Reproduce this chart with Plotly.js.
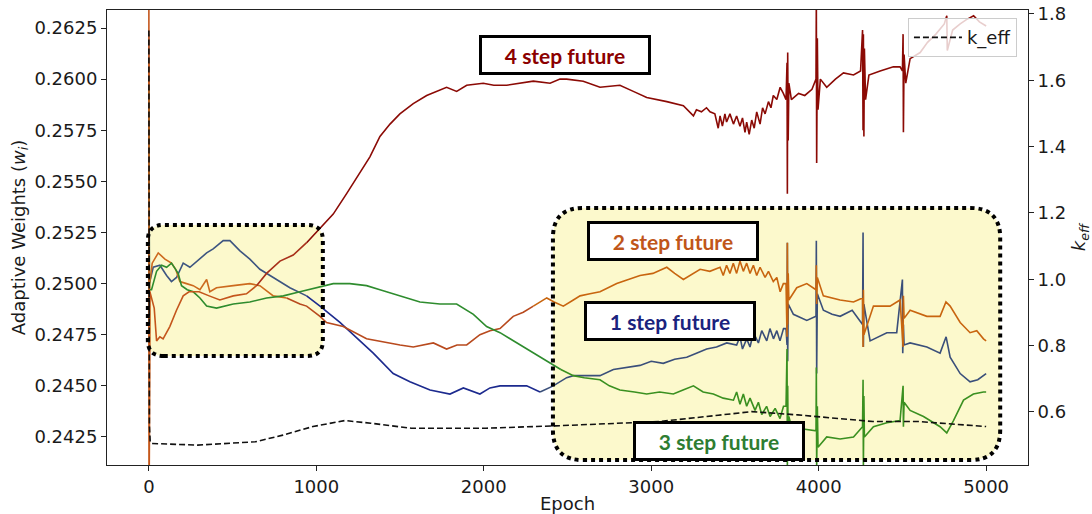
<!DOCTYPE html>
<html>
<head>
<meta charset="utf-8">
<script src="https://cdn.plot.ly/plotly-3.0.1.min.js"></script>
<style>html,body{margin:0;padding:0;background:#fff;}#chart{width:1092px;height:514px;}</style>
</head>
<body>
<div id="chart"></div>
<script>
// ---------------- data ----------------
const epochs4 = [0,2,6,32,46,66,85,125,165,205,240,300,360,424,504,583,643,703,783,862,942,1022,1101,1181,1260,1320,1380,1440,1499,1579,1659,1720,1778,1838,1898,1997,2060,2137,2220,2296,2396,2455,2495,2594,2694,2813,2893,2973,3093,3192,3252,3270,3300,3330,3351,3380,3400,3411,3425,3440,3450,3470,3491,3510,3530,3545,3560,3570,3585,3600,3615,3630,3650,3665,3680,3700,3715,3729,3750,3770,3789,3805,3811,3813,3815,3818,3822,3837,3880,3917,3960,3984,3986,3988,3992,3996,4010,4048,4100,4148,4208,4250,4262,4265,4267,4270,4273,4280,4300,4367,4446,4486,4500,4504,4506,4510,4520,4546,4606,4650,4700,4750,4765,4768,4800,4845,4880,4925,4960,5000];
const weight4 = [0.2650,0.2405,0.2496,0.2488,0.2472,0.2474,0.2473,0.2479,0.2487,0.2494,0.2496,0.2496,0.2494,0.2492,0.2494,0.2495,0.2499,0.2505,0.2511,0.2514,0.2520,0.2527,0.2534,0.2544,0.2554,0.2562,0.2572,0.2578,0.2583,0.2588,0.2592,0.2594,0.2596,0.2594,0.2597,0.2598,0.2597,0.2597,0.2598,0.2599,0.2598,0.2600,0.2600,0.2599,0.2596,0.2597,0.2594,0.2591,0.2589,0.2587,0.2582,0.2585,0.2584,0.2586,0.2584,0.2583,0.2576,0.2582,0.2577,0.2583,0.2579,0.2583,0.2578,0.2582,0.2577,0.2581,0.2574,0.2579,0.2573,0.2580,0.2576,0.2584,0.2578,0.2586,0.2583,0.2589,0.2586,0.2592,0.2590,0.2596,0.2593,0.2590,0.2608,0.2544,0.2613,0.2570,0.2598,0.2590,0.2593,0.2592,0.2595,0.2600,0.2640,0.2559,0.2620,0.2585,0.2600,0.2596,0.2600,0.2603,0.2602,0.2604,0.2624,0.2575,0.2622,0.2572,0.2615,0.2590,0.2602,0.2604,0.2606,0.2606,0.2604,0.2622,0.2574,0.2612,0.2598,0.2610,0.2613,0.2618,0.2622,0.2627,0.2631,0.2614,0.2624,0.2627,0.2629,0.2631,0.2628,0.2626];

const epochs2 = [0,2,5,20,56,96,135,160,185,225,265,305,345,364,404,504,603,663,743,823,902,942,1022,1061,1161,1300,1420,1500,1579,1640,1699,1778,1840,1898,1977,2037,2097,2176,2236,2296,2376,2420,2475,2535,2575,2634,2694,2794,2860,2933,3010,3093,3140,3192,3292,3350,3411,3430,3450,3470,3490,3510,3530,3550,3570,3590,3610,3630,3650,3680,3700,3729,3750,3770,3789,3805,3811,3813,3815,3818,3822,3869,3929,3984,3986,3988,3992,4028,4128,4208,4262,4265,4267,4270,4327,4426,4486,4504,4506,4510,4546,4646,4725,4760,4785,4845,4904,4944,4984,5000];
const weight2 = [0.2608,0.2405,0.2500,0.2510,0.2515,0.2512,0.2510,0.2507,0.2501,0.2500,0.2499,0.2497,0.2502,0.2496,0.2498,0.2499,0.2500,0.2499,0.2494,0.2493,0.2490,0.2489,0.2484,0.2481,0.2479,0.2473,0.2471,0.2470,0.2469,0.2470,0.2471,0.2468,0.2470,0.2470,0.2475,0.2477,0.2478,0.2484,0.2486,0.2489,0.2493,0.2491,0.2489,0.2492,0.2494,0.2495,0.2496,0.2500,0.2502,0.2504,0.2505,0.2508,0.2505,0.2502,0.2507,0.2506,0.2508,0.2504,0.2509,0.2505,0.2510,0.2505,0.2511,0.2506,0.2510,0.2505,0.2509,0.2504,0.2508,0.2503,0.2506,0.2501,0.2503,0.2496,0.2500,0.2500,0.2474,0.2520,0.2480,0.2505,0.2492,0.2498,0.2500,0.2497,0.2509,0.2490,0.2503,0.2494,0.2492,0.2491,0.2493,0.2469,0.2497,0.2475,0.2489,0.2489,0.2492,0.2469,0.2494,0.2483,0.2487,0.2484,0.2484,0.2491,0.2489,0.2481,0.2476,0.2477,0.2473,0.2472];

const epochs1 = [0,3,26,66,106,135,165,205,245,305,345,384,444,484,544,603,663,743,842,942,1022,1141,1260,1340,1459,1559,1679,1740,1798,1878,1977,2037,2097,2176,2256,2336,2415,2495,2535,2634,2694,2774,2850,2933,3000,3072,3140,3212,3270,3331,3390,3451,3510,3530,3545,3570,3590,3610,3640,3660,3690,3709,3730,3750,3769,3790,3805,3811,3813,3815,3818,3849,3929,3984,3986,3988,3992,4028,4080,4128,4200,4262,4265,4267,4270,4307,4407,4466,4500,4502,4506,4510,4546,4646,4725,4761,4785,4845,4904,4950,4984,5000];
const weight1 = [0.2622,0.2500,0.2508,0.2509,0.2504,0.2501,0.2503,0.2510,0.2508,0.2512,0.2515,0.2517,0.2521,0.2521,0.2516,0.2512,0.2507,0.2503,0.2498,0.2494,0.2489,0.2481,0.2472,0.2466,0.2456,0.2452,0.2448,0.2447,0.2446,0.2449,0.2446,0.2449,0.2450,0.2450,0.2450,0.2447,0.2450,0.2454,0.2455,0.2455,0.2455,0.2458,0.2459,0.2460,0.2462,0.2461,0.2463,0.2464,0.2466,0.2468,0.2469,0.2471,0.2470,0.2474,0.2468,0.2473,0.2469,0.2476,0.2471,0.2477,0.2472,0.2478,0.2473,0.2477,0.2472,0.2478,0.2478,0.2470,0.2520,0.2462,0.2490,0.2485,0.2482,0.2484,0.2521,0.2456,0.2495,0.2487,0.2485,0.2484,0.2487,0.2480,0.2525,0.2469,0.2490,0.2472,0.2476,0.2476,0.2502,0.2466,0.2480,0.2470,0.2471,0.2469,0.2466,0.2474,0.2464,0.2456,0.2452,0.2453,0.2455,0.2456];

const epochs3 = [0,3,16,46,76,106,135,175,195,229,265,305,345,404,504,603,703,803,902,1002,1101,1200,1300,1380,1499,1619,1738,1838,1938,2017,2097,2176,2236,2296,2396,2460,2535,2600,2694,2750,2813,2900,2973,3050,3132,3190,3252,3310,3371,3430,3491,3510,3530,3550,3570,3590,3620,3640,3660,3689,3710,3740,3769,3790,3805,3811,3813,3815,3818,3822,3837,3897,3984,3986,3988,3992,3996,4048,4128,4208,4262,4265,4267,4270,4273,4327,4407,4486,4504,4506,4510,4546,4626,4725,4765,4805,4865,4924,4984,5000];
const weight3 = [0.2595,0.2497,0.2497,0.2506,0.2509,0.2508,0.2510,0.2505,0.2499,0.2497,0.2496,0.2493,0.2489,0.2488,0.2490,0.2491,0.2493,0.2494,0.2496,0.2498,0.2500,0.2500,0.2499,0.2497,0.2494,0.2491,0.2490,0.2490,0.2485,0.2479,0.2476,0.2472,0.2469,0.2466,0.2461,0.2458,0.2455,0.2454,0.2453,0.2450,0.2448,0.2447,0.2446,0.2447,0.2446,0.2448,0.2450,0.2447,0.2446,0.2444,0.2443,0.2447,0.2441,0.2446,0.2440,0.2444,0.2438,0.2442,0.2436,0.2440,0.2435,0.2439,0.2434,0.2440,0.2440,0.2468,0.2410,0.2450,0.2420,0.2435,0.2430,0.2429,0.2428,0.2459,0.2410,0.2440,0.2420,0.2425,0.2424,0.2425,0.2430,0.2453,0.2410,0.2445,0.2425,0.2430,0.2432,0.2433,0.2450,0.2430,0.2442,0.2438,0.2435,0.2430,0.2427,0.2433,0.2443,0.2446,0.2447,0.2447];

const epochsK = [0,3,8,15,291,636,800,980,1170,1325,1566,2014,2428,3048,3400,3600,3876,4324,4600,5000];
const kEff = [1.75,0.56,0.51,0.505,0.500,0.510,0.530,0.556,0.574,0.566,0.551,0.551,0.558,0.571,0.590,0.601,0.591,0.571,0.571,0.556];

const labels = ["4 step future","2 step future","1 step future","3 step future"];
const labelEpochs = [2485,3130,3112,3405];
const labelWeights = [0.26118,0.25208,0.24817,0.24230];

// ---------------- styling ----------------
const labelColors = ["#8b0000","#c0561a","#1a237e","#2e7d32"];

function segmentTraces(xs, ys, breaks, colors) {
  const out = [];
  for (let s = 0; s < breaks.length; s++) {
    const lo = breaks[s], hi = (s + 1 < breaks.length) ? breaks[s+1] : Infinity;
    const idx = [];
    for (let i = 0; i < xs.length; i++) if (xs[i] >= lo && xs[i] < hi) idx.push(i);
    if (!idx.length) continue;
    if (idx[0] > 0) idx.unshift(idx[0]-1);
    out.push({
      x: idx.map(i => xs[i]), y: idx.map(i => ys[i]),
      type: 'scatter', mode: 'lines', showlegend: false, hoverinfo: 'skip',
      line: {color: colors[s], width: 1.6}, xaxis: 'x', yaxis: 'y'
    });
  }
  return out;
}

const traces = [
  ...segmentTraces(epochs1, weight1, [0, 1000, 2400], ["#3d5580", "#1c2a8e", "#3a4f7a"]),
  ...segmentTraces(epochs2, weight2, [0, 900, 2350], ["#cc6a1e", "#b84a1e", "#c8650f"]),
  ...segmentTraces(epochs3, weight3, [0, 2500], ["#2e8c2e", "#3a9020"]),
  ...segmentTraces(epochs4, weight4, [0, 700, 1000], ["#c4561c", "#a8301a", "#8b0a05"]),
  {
    x: epochsK, y: kEff, type: 'scatter', mode: 'lines', name: 'k_eff',
    line: {color: '#111', width: 1.6, dash: '6px,3px'}, xaxis: 'x', yaxis: 'y2'
  }
];

function roundRect(x0, x1, y0, y1, rx, ry) {
  return `M ${x0+rx},${y0} L ${x1-rx},${y0} Q ${x1},${y0} ${x1},${y0+ry} L ${x1},${y1-ry} Q ${x1},${y1} ${x1-rx},${y1} L ${x0+rx},${y1} Q ${x0},${y1} ${x0},${y1-ry} L ${x0},${y0+ry} Q ${x0},${y0} ${x0+rx},${y0} Z`;
}
const box1 = roundRect(-6, 1039, 0.24646, 0.25287, 95, 0.00075);
const box2 = roundRect(2413, 5084, 0.24137, 0.25370, 180, 0.00147);
const fillCol = '#fcf9cc';

const shapes = [
  {type:'path', path: box1, xref:'x', yref:'y', fillcolor: fillCol, line:{width:0}, layer:'below'},
  {type:'path', path: box2, xref:'x', yref:'y', fillcolor: fillCol, line:{width:0}, layer:'below'},
  {type:'path', path: box1, xref:'x', yref:'y', fillcolor:'rgba(0,0,0,0)', line:{color:'#000', width:4, dash:'dot'}, layer:'above'},
  {type:'path', path: box2, xref:'x', yref:'y', fillcolor:'rgba(0,0,0,0)', line:{color:'#000', width:4, dash:'dot'}, layer:'above'}
];

const annotations = labels.map((t, i) => ({
  x: labelEpochs[i], y: labelWeights[i], xref: 'x', yref: 'y',
  text: '<b>' + t + '</b>', showarrow: false,
  font: {family: 'Lato, "Open Sans", sans-serif', size: 21, color: labelColors[i]},
  bgcolor: '#ffffff', bordercolor: '#000', borderwidth: 3, borderpad: 3,
  width: 160, height: 28, align: 'center', valign: 'middle'
}));

const fontMain = {family: '"DejaVu Sans", sans-serif', size: 18, color: '#1a1a1a'};

const layout = {
  width: 1092, height: 514,
  margin: {l: 107, r: 64, t: 10, b: 49},
  paper_bgcolor: '#fff', plot_bgcolor: '#fff',
  font: fontMain,
  showlegend: true,
  legend: {x: 0.988, y: 0.982, xanchor: 'right', yanchor: 'top', itemwidth: 48,
           bgcolor: 'rgba(255,255,255,0.8)', bordercolor: '#cccccc', borderwidth: 1,
           font: {family: '"DejaVu Sans", sans-serif', size: 18, color: '#1a1a1a'}},
  xaxis: {
    range: [-250, 5250], tickvals: [0,1000,2000,3000,4000,5000],
    showgrid: false, zeroline: false, showline: true, mirror: true,
    linecolor: '#222', linewidth: 1, ticks: 'outside', ticklen: 5, tickcolor: '#222',
    title: {text: 'Epoch', font: fontMain, standoff: 6}
  },
  yaxis: {
    range: [0.24113, 0.26338], tickvals: [0.2425,0.2450,0.2475,0.2500,0.2525,0.2550,0.2575,0.2600,0.2625],
    tickformat: '.4f', showgrid: false, zeroline: false, showline: true, mirror: true,
    linecolor: '#222', linewidth: 1, ticks: 'outside', ticklen: 5, tickcolor: '#222',
    title: {text: 'Adaptive Weights (<i>w<sub>i</sub></i>)', font: fontMain, standoff: 4}
  },
  yaxis2: {
    overlaying: 'y', side: 'right', range: [0.44, 1.812],
    tickvals: [0.6,0.8,1.0,1.2,1.4,1.6,1.8], tickformat: '.1f',
    showgrid: false, zeroline: false, showline: true,
    linecolor: '#222', linewidth: 1, ticks: 'outside', ticklen: 5, tickcolor: '#222',
    title: {text: '<i>k<sub>eff</sub></i>', font: fontMain, standoff: 8}
  },
  shapes: shapes,
  annotations: annotations
};

Plotly.newPlot('chart', traces, layout, {displayModeBar: false, staticPlot: true});
</script>
</body>
</html>
